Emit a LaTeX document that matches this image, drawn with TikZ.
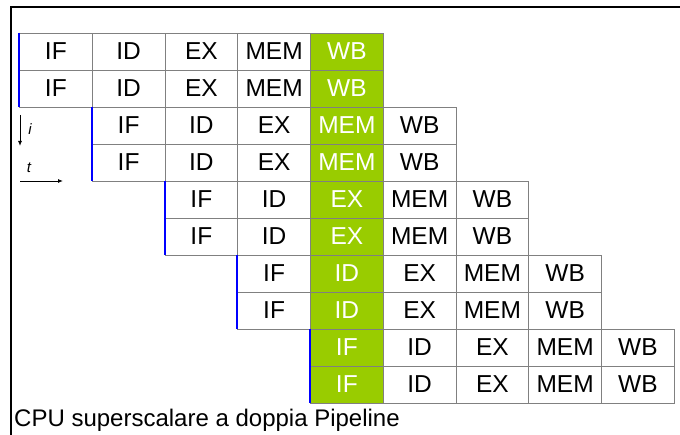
\documentclass[tikz,border=0pt]{standalone}
\usepackage{fontspec}
\setmainfont{Liberation Sans}
\usetikzlibrary{arrows.meta}
\definecolor{stagegreen}{RGB}{153,204,0}
\tikzset{
	stagebox/.style={draw=black!50, line width=0.3mm, minimum width=72.75pt, minimum height=37pt,
		inner sep=0pt, font=\fontsize{24.5}{28}\selectfont},
	hotbox/.style={stagebox, fill=stagegreen, text=white},
	issue/.style={draw=blue, line width=0.7mm},
	axis/.style={-{Latex[length=5pt,width=4pt]}, line width=0.3mm}
}

\begin{document}
\begin{tikzpicture}[x=1pt,y=-1pt]
		%%%%% START %%%%%
		\useasboundingbox (0,0) rectangle (680,435);
		
		% frame
		\draw[line width=0.8mm] (11.2,435) -- (11.2,6.8) -- (680,6.8);
		
		% pipeline cells: pair k, row r, stage j
		\foreach \k in {0,...,4} {
			\foreach \r in {0,1} {
				\foreach \st [count=\j from 0] in {IF,ID,EX,MEM,WB} {
					\pgfmathtruncatemacro{\col}{\k+\j}
					\pgfmathtruncatemacro{\row}{2*\k+\r}
					\ifnum\col=4
						\node[hotbox] (c\row-\j) at ({19.5+72.75*(\col+0.5)}, {33+37*(\row+0.5)}) {\st};
					\else
						\node[stagebox] (c\row-\j) at ({19.5+72.75*(\col+0.5)}, {33+37*(\row+0.5)}) {\st};
					\fi
				}
			}
		}
		
		% issue marks
		\foreach \k in {0,...,4} {
			\pgfmathtruncatemacro{\rowa}{2*\k}
			\pgfmathtruncatemacro{\rowb}{2*\k+1}
			\draw[issue] (c\rowa-0.north west) -- (c\rowb-0.south west);
		}
		
		% axes
		\coordinate (itop) at (20,115);
		\coordinate (ibot) at (20,146);
		\coordinate (tleft) at (20,181);
		\coordinate (tright) at (63,181);
		\draw[axis] (itop) -- (ibot);
		\draw[axis] (tleft) -- (tright);
		\node[font=\fontsize{15}{17}\selectfont\itshape] (ilab) at (30,129) {i};
		\node[font=\fontsize{15}{17}\selectfont\itshape] (tlab) at (29,168) {t};
		
		\node[anchor=base west, inner sep=0pt, font=\fontsize{24}{28}\selectfont] (caption) at (14,426) {CPU superscalare a doppia Pipeline};
		
		%%%%% END %%%%%
\end{tikzpicture}
\end{document}
